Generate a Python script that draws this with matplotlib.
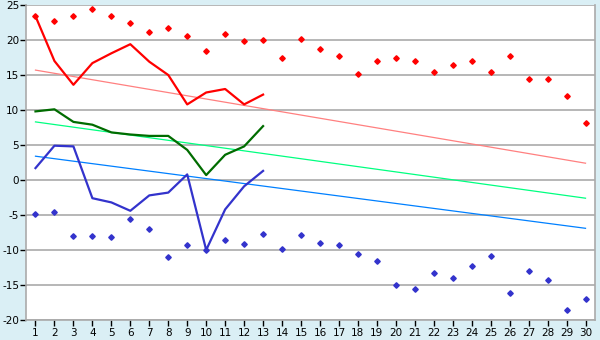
import numpy as np
import matplotlib
matplotlib.use('Agg')
import matplotlib.pyplot as plt

plt.rcParams['axes.unicode_minus'] = False

cats = list(range(1, 31))

red_pts = [23.4, 22.7, 23.5, 24.4, 23.4, 22.4, 21.2, 21.7, 20.6, 18.4,
           20.8, 19.8, 20.0, 17.5, 20.2, 18.7, 17.7, 15.1, 17.0, 17.4,
           17.0, 15.4, 16.5, 17.0, 15.5, 17.7, 14.5, 14.4, 12.0, 8.2]
blue_pts = [-4.9, -4.6, -8.0, -8.0, -8.2, -5.5, -7.0, -11.0, -9.3, -10.0,
            -8.6, -9.2, -7.7, -9.8, -7.9, -9.0, -9.3, -10.5, -11.6, -15.0,
            -15.5, -13.3, -14.0, -12.3, -10.9, -16.2, -13.0, -14.3, -18.6, -17.0]

line_cats = list(range(1, 14))
red_line = [23.4, 17.0, 13.6, 16.7, 18.1, 19.4, 16.9, 15.0, 10.8, 12.5, 13.0, 10.8, 12.2]
green_line = [9.8, 10.1, 8.3, 7.9, 6.8, 6.5, 6.3, 6.3, 4.3, 0.7, 3.6, 4.8, 7.7]
blue_line = [1.7, 4.9, 4.8, -2.6, -3.2, -4.4, -2.2, -1.8, 0.8, -10.0, -4.2, -0.9, 1.3]

# straight trend lines, values at category 1 and 30
trend_x = [1, 30]
red_trend = [15.7, 2.4]
green_trend = [8.3, -2.6]
blue_trend = [3.4, -6.9]

bg = '#daeff5'
fig = plt.figure(figsize=(6, 3.4), dpi=100, facecolor=bg)
ax = fig.add_axes([26/600, 20/340, 569/600, 315/340])
ax.set_facecolor('white')

ax.set_xlim(0.5, 30.5)
ax.set_ylim(-20, 25)
ax.set_yticks(np.arange(-20, 26, 5))
ax.set_xticks(cats)
ax.grid(True, axis='y', color='#aaaaaa', lw=1.2)
ax.set_axisbelow(True)
for s in ax.spines.values():
    s.set_color('#aaaaaa')
    s.set_linewidth(1.2)
ax.spines['top'].set_visible(False)
ax.tick_params(axis='both', colors='black', labelsize=7.5, length=4, width=1)
ax.tick_params(axis='x', pad=2)
ax.tick_params(axis='y', pad=1)

ax.plot(trend_x, red_trend, color='#ff8080', lw=0.9)
ax.plot(trend_x, green_trend, color='#00ff80', lw=0.9)
ax.plot(trend_x, blue_trend, color='#0080ff', lw=0.9)

ax.plot(line_cats, red_line, color='#ff0000', lw=1.6)
ax.plot(line_cats, green_line, color='#006c00', lw=1.6)
ax.plot(line_cats, blue_line, color='#3333cc', lw=1.6)

ax.plot(cats, red_pts, 'D', color='#ff0000', ms=2.8, ls='none')
ax.plot(cats, blue_pts, 'D', color='#3333cc', ms=2.8, ls='none')

fig.savefig('out.png', dpi=100, facecolor=bg)
